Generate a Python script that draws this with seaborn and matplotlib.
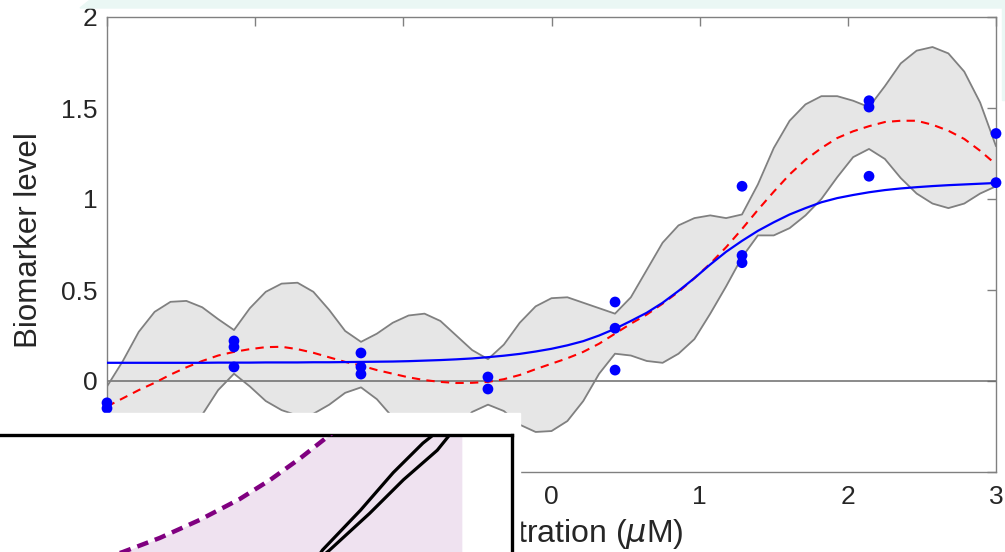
import numpy as np
import pandas as pd
import matplotlib
matplotlib.use("Agg")
import matplotlib.pyplot as plt
from matplotlib.patches import Rectangle, Polygon
import seaborn as sns

# ---- measurements: log dose levels and replicate biomarker readings ----
dose_levels = [-3.0, -2.143, -1.286, -0.429, 0.429, 1.286, 2.143, 3.0]
replicates = [
    [-0.12, -0.15],
    [0.22, 0.187, 0.077],
    [0.154, 0.077, 0.038],
    [0.022, -0.044],
    [0.434, 0.29, 0.06],
    [1.07, 0.69, 0.65],
    [1.54, 1.505, 1.125],
    [1.36, 1.09],
]

# ---- fitted curves sampled along the dose axis (8 samples per dose step) ----
curve_x = np.linspace(-3.0, 3.0, 57)
gp_mean = [-0.14, -0.095, -0.05, -0.01, 0.035, 0.075, 0.11, 0.14, 0.16,
           0.175, 0.186, 0.188, 0.175, 0.155, 0.13, 0.105, 0.085,
           0.06, 0.04, 0.02, 0.005, -0.005, -0.011, -0.01, -0.005,
           0.01, 0.033, 0.065, 0.095, 0.125, 0.16, 0.205, 0.26,
           0.315, 0.365, 0.425, 0.49, 0.565, 0.645, 0.735, 0.835,
           0.94, 1.04, 1.135, 1.215, 1.28, 1.335, 1.372, 1.40,
           1.423, 1.43, 1.43, 1.408, 1.375, 1.33, 1.265, 1.19]
gp_upper = [-0.03, 0.11, 0.27, 0.38, 0.435, 0.44, 0.405, 0.34, 0.28,
            0.40, 0.49, 0.535, 0.54, 0.49, 0.39, 0.275, 0.215,
            0.26, 0.32, 0.36, 0.37, 0.33, 0.25, 0.17, 0.12,
            0.20, 0.32, 0.41, 0.455, 0.46, 0.43, 0.40, 0.37,
            0.46, 0.61, 0.76, 0.855, 0.895, 0.91, 0.895, 0.915,
            1.08, 1.28, 1.43, 1.52, 1.565, 1.565, 1.54, 1.505,
            1.62, 1.745, 1.815, 1.835, 1.80, 1.70, 1.53, 1.29]
gp_lower = [-0.25, -0.30, -0.37, -0.40, -0.365, -0.29, -0.185, -0.05, 0.04,
            -0.03, -0.11, -0.16, -0.19, -0.18, -0.13, -0.065, -0.035,
            -0.10, -0.20, -0.32, -0.36, -0.34, -0.27, -0.17, -0.13,
            -0.165, -0.24, -0.28, -0.275, -0.22, -0.11, 0.04, 0.15,
            0.14, 0.11, 0.10, 0.15, 0.23, 0.37, 0.52, 0.68,
            0.80, 0.80, 0.84, 0.91, 1.00, 1.12, 1.23, 1.275,
            1.22, 1.115, 1.03, 0.975, 0.95, 0.975, 1.03, 1.07]
sigmoid_fit = [0.100, 0.100, 0.100, 0.100, 0.100, 0.100, 0.100, 0.101, 0.101,
               0.101, 0.102, 0.102, 0.102, 0.103, 0.103, 0.104, 0.105,
               0.106, 0.107, 0.109, 0.112, 0.115, 0.119, 0.124, 0.131,
               0.139, 0.149, 0.162, 0.177, 0.196, 0.219, 0.25, 0.287,
               0.33, 0.375, 0.43, 0.495, 0.565, 0.64, 0.71, 0.77,
               0.825, 0.872, 0.915, 0.95, 0.982, 1.005, 1.022, 1.037,
               1.049, 1.058, 1.065, 1.071, 1.076, 1.08, 1.084, 1.088]

x_ticks = [-3, -2, -1, 0, 1, 2, 3]
y_ticks = [-0.5, 0, 0.5, 1, 1.5, 2]

# ---- second panel (window partly in front of the plot) ----
bound_x = [1.05, 1.20, 1.56, 1.95, 2.34, 2.64, 2.93, 3.22, 3.32]
bound_y = [-0.05, 0.0, 0.138, 0.315, 0.52, 0.71, 0.92, 1.15, 1.23]
band_right = 4.51
trace_a_x = [3.11, 3.15, 3.52, 3.84, 4.13, 4.23, 4.29]
trace_a_y = [-0.04, 0.02, 0.41, 0.78, 1.07, 1.15, 1.20]
trace_b_x = [3.15, 3.22, 3.61, 3.94, 4.27, 4.39, 4.45]
trace_b_y = [-0.04, 0.02, 0.38, 0.71, 1.00, 1.15, 1.20]

# ---- style ----
sns.set_style("white")
plt.rcParams["font.family"] = ["Liberation Sans", "DejaVu Sans"]
plt.rcParams["mathtext.fontset"] = "dejavusans"

W, H = 1005, 552
fig = plt.figure(figsize=(W / 100, H / 100), dpi=100)


def fx(px):
    return px / W


def fy(py):
    return 1 - py / H


ax = fig.add_axes([fx(107), fy(472), fx(996) - fx(107), fy(17) - fy(472)])

ax.fill_between(curve_x, gp_lower, gp_upper, color="#e6e6e6", lw=0, zorder=1)
ax.axhline(0, color="#6b6b6b", lw=1.1, zorder=2)
sns.lineplot(x=curve_x, y=gp_upper, color="#808080", lw=1.3, ax=ax, zorder=3)
sns.lineplot(x=curve_x, y=gp_lower, color="#808080", lw=1.3, ax=ax, zorder=3)
sns.lineplot(x=curve_x, y=gp_mean, color="#ff0000", lw=1.5, ax=ax, zorder=4,
             linestyle=(0, (4, 3)))
sns.lineplot(x=curve_x, y=sigmoid_fit, color="#0000ff", lw=1.6, ax=ax, zorder=5)

pts = pd.DataFrame({
    "dose": [d for d, reps in zip(dose_levels, replicates) for _ in reps],
    "level": [v for reps in replicates for v in reps],
})
sns.scatterplot(data=pts, x="dose", y="level", color="#0000ff", s=60,
                edgecolor="none", ax=ax, zorder=6, clip_on=False)

ax.set_xlim(-3, 3)
ax.set_ylim(-0.5, 2)
ax.set_xticks(x_ticks)
ax.set_yticks(y_ticks)
ax.set_yticklabels([f"{v:g}" for v in y_ticks])
for s in ax.spines.values():
    s.set_visible(True)
    s.set_color("#808080")
    s.set_linewidth(1.0)
ax.tick_params(direction="in", length=6.5, width=1, color="#808080",
               top=True, right=True, labelsize=19, labelcolor="#262626")
ax.tick_params(axis="x", pad=9)
ax.tick_params(axis="y", pad=7)
ax.set_xlabel(r"Concentration ($\mu$M)", fontsize=23, color="#262626", ha="right")
ax.xaxis.set_label_coords(0.648, -0.099)
ax.set_ylabel("Biomarker level", fontsize=22.5, color="#262626")
ax.yaxis.set_label_coords(-0.071, 0.51)

# ---- window chrome around the plot ----
fig.patches.append(Polygon([(fx(80), fy(8)), (fx(90), fy(0)), (fx(1005), fy(0)),
                            (fx(1005), fy(8))], closed=True,
                           transform=fig.transFigure, color="#eaf7f4", zorder=5))
fig.patches.append(Rectangle((fx(1002), fy(100)), fx(3), fy(8) - fy(100),
                             transform=fig.transFigure, color="#eaf7f4", zorder=5))
fig.patches.append(Rectangle((0, 0), fx(520), fy(413), transform=fig.transFigure,
                             color="white", zorder=5))
fig.patches.append(Rectangle((0, fy(439)), fx(513), fy(436) - fy(439),
                             transform=fig.transFigure, color="#d2d2d2", zorder=5))

ins = fig.add_axes([0, 0, fx(512), fy(435)], zorder=6)
ins.set_facecolor("white")
ins.fill_betweenx(bound_y, bound_x, band_right, color="#efe2f0", lw=0, zorder=1)
sns.lineplot(x=bound_x, y=bound_y, sort=False, color="#800080", lw=3.2,
             linestyle=(0, (2.6, 1.6)), ax=ins, zorder=3)
sns.lineplot(x=trace_a_x, y=trace_a_y, sort=False, color="black", lw=2.3, ax=ins, zorder=4)
sns.lineplot(x=trace_b_x, y=trace_b_y, sort=False, color="black", lw=2.3, ax=ins, zorder=4)
ins.set_xlim(0, 5)
ins.set_ylim(0, 1.15)
ins.set_xticks([])
ins.set_yticks([])
ins.set_xlabel("")
ins.set_ylabel("")
for side in ("left", "bottom"):
    ins.spines[side].set_visible(False)
for side in ("top", "right"):
    ins.spines[side].set_visible(True)
    ins.spines[side].set_color("black")
    ins.spines[side].set_linewidth(2.4)

fig.savefig("out.png", dpi=100)
